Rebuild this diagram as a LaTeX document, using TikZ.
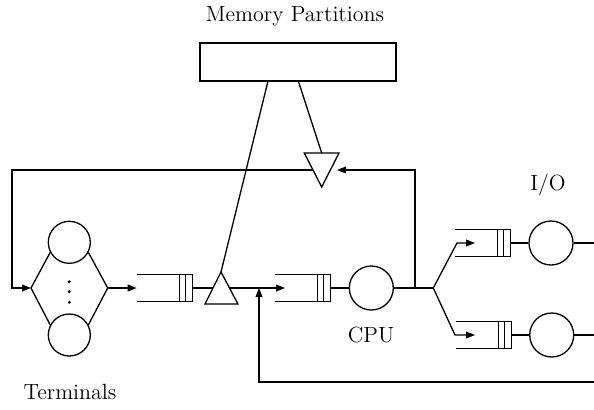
\documentclass[tikz,border=0pt]{standalone}
\usetikzlibrary{arrows.meta}
\tikzset{
  every path/.style={line width=0.65pt},
  flow/.style={-{Triangle[length=4.5pt,width=3.4pt]}},
  server/.style={draw, circle, minimum size=22pt, inner sep=0pt},
  lbl/.style={font=\fontsize{11}{13}\selectfont, inner sep=0pt, anchor=base},
  pics/queue/.style={code={
    \draw (-56,-13.8) -- (0,-13.8) -- (0,13.8) -- (-56,13.8);
    \draw (-13,-13.8) -- (-13,13.8) (-7.5,-13.8) -- (-7.5,13.8);
    \coordinate (-in) at (-56,0);
    \coordinate (-out) at (0,0);
  }}
}
\begin{document}
\begin{tikzpicture}[x=0.5pt,y=-0.5pt]
\useasboundingbox (0,0) rectangle (594,409);

% memory partitions
\node[draw, minimum width=98pt, minimum height=19pt, inner sep=0pt] (mem) at (298,62) {};
\node[lbl] (memlbl) at (295,21.5) {Memory Partitions};
\coordinate (m1) at (268,81);
\coordinate (m2) at (298.3,81);

% terminals
\node[server, minimum size=21pt] (t1) at (69.3,242.3) {};
\node[server, minimum size=21pt] (t2) at (69.3,335) {};
\foreach \yy in {281.7,291.7,302.3} \fill (69.3,\yy) circle (0.8pt);
\node[lbl] (termlbl) at (70,399.3) {Terminals};
\coordinate (dl) at (31,288);
\coordinate (dr) at (107.7,288);

% queues
\pic (q1) at (192.7,288) {queue};
\pic (q2) at (330.7,288) {queue};
\pic (q3) at (510.7,243) {queue};
\pic (q4) at (511.7,335) {queue};

% admission gate (upright triangle)
\coordinate (ga) at (221,272);
\coordinate (gl) at (205,304);
\coordinate (gr) at (238,304);
\draw (ga) -- (gl) -- (gr) -- cycle;
\coordinate (gin) at (213,288);
\coordinate (gout) at (229.5,288);

% release gate (inverted triangle)
\coordinate (ma) at (321.7,187);
\coordinate (ml) at (304.3,153);
\coordinate (mr) at (339,153);
\draw (ml) -- (mr) -- (ma) -- cycle;
\coordinate (mtop) at (321.7,153);
\coordinate (mleft) at (313,170);
\coordinate (mtip) at (337,170);

% CPU and I/O servers
\node[server] (cpu) at (371.3,288) {};
\node[lbl] (cpulbl) at (371,342.7) {CPU};
\node[server] (io1) at (551,243) {};
\node[server] (io2) at (551.7,335) {};
\node[lbl] (iolbl) at (548,190.7) {I/O};

% helper points
\coordinate (fb) at (415,288);
\coordinate (fbtop) at (415,170);
\coordinate (split) at (433.3,288);
\coordinate (k3) at (457,243);
\coordinate (a3) at (475,243);
\coordinate (k4) at (455,335);
\coordinate (a4) at (475,335);
\coordinate (x1) at (594,243);
\coordinate (x2) at (594,335);
\coordinate (q2tip) at (285,288);
\coordinate (join) at (259,288);
\coordinate (ret) at (259,382);
\coordinate (retend) at (594,382);
\coordinate (lc1) at (12,170);
\coordinate (lc2) at (12,288);

% connectors
\draw (m1) -- (ga);
\draw (m2) -- (mtop);
\draw (t1.208) -- (dl) -- (t2.152);
\draw (t1.-28) -- (dr) -- (t2.28);
\draw[flow] (dr) -- (q1-in);
\draw (q1-out) -- (gin);
\draw[flow] (gout) -- (q2tip);
\draw (q2-out) -- (cpu);
\draw (cpu) -- (split);
\draw[flow] (split) -- (k3) -- (a3);
\draw[flow] (split) -- (k4) -- (a4);
\draw (q3-out) -- (io1);
\draw (q4-out) -- (io2);
\draw (io1) -- (x1);
\draw (io2) -- (x2);
\draw[flow] (fb) -- (fbtop) -- (mtip);
\draw[flow] (mleft) -- (lc1) -- (lc2) -- (dl);
\draw[flow] (retend) -- (ret) -- (join);
\end{tikzpicture}
\end{document}
